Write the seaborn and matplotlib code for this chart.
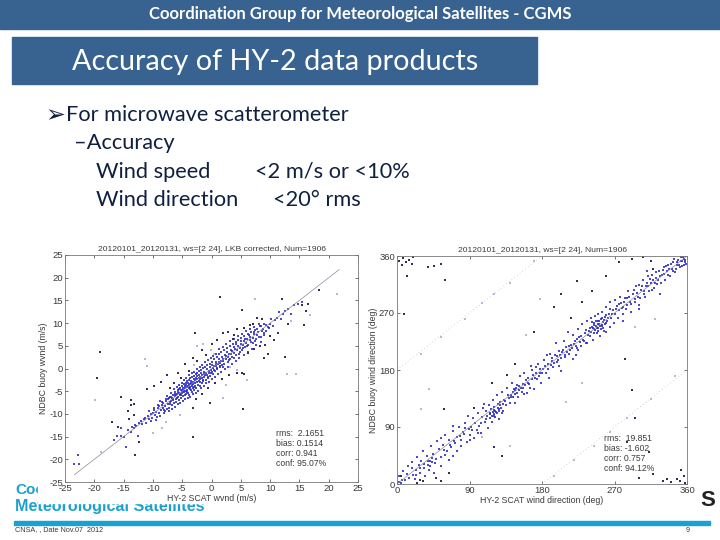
import numpy as np
import pandas as pd
import matplotlib
matplotlib.use("Agg")
import matplotlib.pyplot as plt
from matplotlib.patches import Rectangle
import seaborn as sns

sns.set_theme(style="white")
plt.rcParams["font.family"] = ["Liberation Sans", "DejaVu Sans"]
plt.rcParams["axes.unicode_minus"] = False

BAR = "#386290"
CYAN = "#1ba1d0"
NAVY = "#10203f"
GREY = "#3a3a3a"
BLUE = "#2a2ac8"

# wind speed panel (hy2, ndbc)
speed_band = [
    (-23.4,-21.1),(-22.6,-21.0),(-22.8,-19.0),(-16.6,-15.8),(-16.2,-14.9),(-15.5,-14.8),(-15.4,-13.2),(-15.0,-15.0),
    (-14.6,-17.2),(-14.2,-13.6),(-13.8,-13.9),(-13.5,-12.9),(-13.2,-13.2),(-13.0,-12.4),(-12.8,-12.6),(-12.5,-14.9),
    (-12.4,-12.0),(-12.1,-11.5),(-11.8,-12.2),(-11.6,-11.1),(-11.3,-10.8),(-11.1,-11.9),(-10.9,-10.4),(-10.6,-11.1),
    (-10.4,-10.0),(-10.2,-10.9),(-10.0,-9.7),(-9.8,-9.2),(-9.6,-10.3),(-9.4,-9.6),(-9.2,-8.8),(-9.0,-9.9),
    (-8.9,-8.3),(-8.7,-9.1),(-8.5,-8.0),(-8.3,-8.8),(-8.2,-7.6),(-8.0,-8.3),(-7.9,-9.4),(-7.7,-7.2),
    (-7.5,-7.9),(-7.4,-6.8),(-7.2,-8.6),(-7.1,-7.4),(-7.0,-6.2),(-6.9,-7.1),(-6.8,-8.1),(-6.7,-6.6),
    (-6.6,-5.8),(-6.5,-7.0),(-6.4,-7.7),(-6.3,-6.1),(-6.2,-5.2),(-6.1,-6.7),(-6.0,-7.3),(-5.9,-5.6),
    (-5.8,-6.2),(-5.7,-4.8),(-5.6,-6.9),(-5.5,-5.3),(-5.4,-5.9),(-5.3,-4.3),(-5.2,-6.5),(-5.1,-5.0),
    (-5.0,-5.5),(-5.0,-3.9),(-4.9,-6.1),(-4.8,-4.7),(-4.7,-5.2),(-4.7,-3.5),(-4.6,-5.9),(-4.5,-4.4),
    (-4.4,-5.0),(-4.4,-3.1),(-4.3,-5.6),(-4.2,-4.1),(-4.2,-4.7),(-4.1,-2.8),(-4.0,-5.3),(-4.0,-3.8),
    (-3.9,-4.4),(-3.9,-2.5),(-3.8,-5.8),(-3.7,-3.5),(-3.7,-4.1),(-3.6,-2.2),(-3.5,-4.8),(-3.5,-3.2),
    (-3.4,-3.8),(-3.4,-1.9),(-3.3,-5.2),(-3.2,-2.9),(-3.2,-4.4),(-3.1,-3.5),(-3.0,-1.6),(-3.0,-4.7),
    (-2.9,-2.6),(-2.8,-3.9),(-2.8,-3.2),(-2.7,-1.2),(-2.6,-4.2),(-2.5,-2.3),(-2.5,-3.0),(-2.4,-0.9),
    (-2.3,-3.6),(-2.2,-2.0),(-2.2,-2.7),(-2.1,-0.5),(-2.0,-3.9),(-2.0,-1.8),(-1.9,-2.4),(-1.8,-0.3),
    (-1.7,-3.2),(-1.6,-1.5),(-1.6,-2.1),(-1.5,0.2),(-1.4,-2.8),(-1.3,-1.2),(-1.2,-1.8),(-1.1,0.4),
    (-1.0,-2.5),(-0.9,-0.9),(-0.8,-1.5),(-0.7,0.8),(-0.6,-2.2),(-0.5,-0.6),(-0.4,-1.1),(-0.3,1.1),
    (-0.2,-1.7),(-0.1,-0.3),(0.0,-0.8),(0.1,1.4),(0.2,-1.3),(0.3,0.1),(0.4,0.6),(0.5,2.0),
    (0.6,-0.6),(0.7,0.5),(0.8,1.0),(0.9,2.5),(1.0,-0.2),(1.1,0.9),(1.2,1.4),(1.3,3.1),
    (1.4,0.3),(1.5,1.2),(1.6,1.6),(1.7,3.6),(1.8,0.8),(1.9,1.6),(2.0,2.2),(2.1,4.0),
    (2.2,1.1),(2.4,2.0),(2.5,2.7),(2.6,4.6),(2.8,1.4),(2.9,2.6),(3.0,3.2),(3.1,5.0),
    (3.2,2.0),(3.4,3.1),(3.5,3.8),(3.6,5.3),(3.8,2.4),(3.9,3.5),(4.0,4.4),(4.1,5.9),
    (4.2,3.0),(4.4,4.0),(4.5,5.0),(4.6,6.3),(4.8,3.6),(4.9,4.6),(5.0,5.4),(5.1,6.7),
    (5.2,4.1),(5.4,5.2),(5.5,6.0),(5.6,7.2),(5.8,4.7),(5.9,5.7),(6.0,6.4),(6.2,7.6),
    (6.3,5.2),(6.5,6.2),(6.6,6.9),(6.8,8.0),(7.0,5.7),(7.1,6.7),(7.3,7.5),(7.5,8.5),
    (7.6,6.5),(7.8,7.4),(8.0,8.1),(8.2,9.3),(8.4,6.9),(8.6,8.2),(8.8,8.7),(9.0,9.9),
    (9.3,8.2),(9.6,9.2),(9.9,9.8),(10.2,10.9),(10.5,9.4),(10.8,10.6),(11.1,11.2),(11.5,12.4),
    (11.9,11.0),(12.2,12.0),(12.6,12.6),(13.0,13.1),(13.5,12.1),(14.0,13.9),(14.8,14.3),(15.4,14.7),
]
# second pass over the dense part of the band, less regular
speed_dense = [
    (-9.37,-10.7),(-8.83,-7.2),(-8.11,-9.9),(-7.63,-6.1),(-7.29,-9.3),(-6.97,-5.3),(-6.72,-8.9),(-6.44,-4.6),
    (-6.18,-8.4),(-5.93,-4.1),(-5.76,-7.8),(-5.52,-3.6),(-5.33,-7.6),(-5.09,-3.2),(-4.87,-7.1),(-4.66,-2.6),
    (-4.48,-6.7),(-4.27,-2.2),(-4.06,-6.4),(-3.83,-1.5),(-3.64,-6.2),(-3.41,-1.1),(-3.19,-5.7),(-2.96,-0.7),
    (-2.73,-5.3),(-2.49,-0.2),(-2.27,-4.9),(-2.04,0.3),(-1.81,-4.4),(-1.57,0.7),(-1.36,-3.8),(-1.12,1.4),
    (-0.87,-3.3),(-0.63,1.9),(-0.41,-2.9),(-0.16,2.4),(0.07,-2.4),(0.33,2.8),(0.58,-1.9),(0.84,3.3),
    (1.09,-1.3),(1.36,4.2),(1.63,-0.7),(1.92,4.7),(2.24,-0.1),(2.53,5.4),(2.82,0.4),(3.13,6.1),
    (3.47,0.9),(3.78,6.6),(4.13,1.6),(4.47,7.1),(4.76,2.3),(5.12,7.7),(5.47,2.9),(5.83,8.3),
    (6.16,3.6),(6.53,8.6),(6.92,4.4),(7.28,9.1),(7.67,5.1),(8.07,9.7),(8.53,5.9),(8.96,7.3),
    (-5.61,-4.51),(-5.27,-4.83),(-4.93,-4.22),(-4.76,-4.94),(-4.58,-3.87),(-4.34,-3.64),(-4.17,-5.12),(-3.96,-3.18),
    (-3.79,-3.71),(-3.62,-4.53),(-3.44,-2.76),(-3.28,-3.32),(-3.07,-2.41),(-2.91,-4.02),(-2.68,-2.07),(-2.44,-1.72),
    (-6.83,-6.38),(-6.58,-6.74),(-6.27,-5.56),(-6.04,-5.92),(-5.87,-6.58),(-5.67,-5.14),(-5.44,-5.63),(-5.18,-5.84),
    (-2.16,-1.33),(-1.93,-3.06),(-1.74,-1.01),(-1.52,-2.47),(-1.27,-0.67),(-1.03,-1.36),(-0.78,-0.22),(-0.54,-1.83),
    (-0.32,0.36),(-0.07,-1.04),(0.16,0.72),(0.43,-0.44),(0.69,1.42),(0.96,0.17),(1.23,2.14),(1.47,0.62),
    (1.72,2.47),(2.03,0.41),(2.31,3.07),(2.67,3.62),(2.93,1.83),(3.27,4.17),(3.56,2.62),(3.84,4.83),
    (4.26,5.37),(4.63,3.27),(4.97,6.04),(5.33,4.61),(5.68,6.58),(6.07,5.03),(6.41,7.27),(6.74,5.87),
    (7.17,7.94),(7.43,6.14),(7.73,8.76),(8.13,7.03),(8.47,9.36),(8.92,7.72),(9.24,9.51),(9.74,8.93),
    (-10.74,-9.4),(-10.33,-11.6),(-9.87,-8.6),(-9.52,-11.3),(-9.13,-8.1),(-8.76,-10.4),(-8.41,-7.3),(-8.07,-9.1),
    (-7.84,-6.7),(-7.56,-8.9),(-7.33,-6.4),(-7.08,-7.9),
]
speed_scatter = [
    (-19.5,-2.0),(-19.0,3.6),(-15.5,-6.2),(-13.8,-8.0),(-13.3,-7.8),(-13.2,-10.2),(-13.7,-6.9),(-17.0,-11.8),
    (-15.9,-12.9),(-14.3,-9.3),(-14.1,-11.2),(-13.0,-19.0),(-12.4,-16.2),(-11.0,-4.5),(-9.8,-3.9),(-8.6,-2.9),
    (-7.6,-1.5),(-7.0,-4.4),(-6.4,-3.1),(-5.8,-1.0),(-5.2,-2.2),(-4.5,1.0),(-3.9,-0.6),(-3.2,2.4),
    (-2.9,7.8),(-2.4,1.6),(-1.6,4.0),(-0.9,2.9),(-3.1,-8.7),(-3.1,-15.1),(-0.3,-7.7),(-2.6,-6.8),
    (-1.6,-5.6),(-0.6,-4.4),(0.6,-3.2),(1.8,-2.4),(3.0,-1.5),(4.4,-0.9),(5.6,-1.2),(5.2,-1.0),
    (0.0,5.4),(0.9,6.2),(1.5,15.8),(1.9,7.9),(2.9,8.1),(3.9,7.4),(5.2,12.8),(5.5,8.9),
    (5.3,-9.0),(7.8,11.1),(9.0,2.3),(9.6,3.3),(9.2,5.2),(10.7,6.2),(11.4,7.8),(12.6,2.5),
    (13.0,9.9),(12.0,15.2),(15.5,14.0),(15.7,9.6),(16.1,12.7),(16.5,14.3),(18.3,17.2),(7.3,4.2),
    (8.2,5.0),(8.7,10.8),(7.0,9.9),(6.5,9.6),(4.4,8.8),(3.6,6.5),(6.2,3.4),(10.0,7.1),
]
speed_pale = [
    (-19.8,-7.0),(-18.8,-18.3),(-11.3,2.2),(-11.0,0.5),(-9.9,-14.3),(-8.4,-13.0),(-7.8,-11.7),(-5.4,-10.2),
    (-3.0,0.8),(-1.4,5.3),(-0.1,4.0),(1.9,-6.5),(2.4,-3.6),(4.4,-0.4),(6.1,-2.6),(7.5,15.4),
    (12.8,-1.2),(14.4,-1.2),(21.5,16.5),(13.5,10.4),(16.8,11.7),(-2.5,5.0),(0.5,3.2),(3.2,0.4),
]
speed_fit = [-23.4, 21.8]
speed_stats = ["rms:  2.1651", "bias: 0.1514", "corr: 0.941", "conf: 95.07%"]

# wind direction panel (hy2, ndbc)
dir_band = [
    (2,3),(3,12),(5,1),(6,7),(8,20),(10,6),(12,16),(14,28),(15,10),(18,26),(19,34),(20,14),(22,8),(24,22),(25,42),
    (27,30),(29,18),(30,36),(32,52),(34,26),(35,12),(37,44),(39,30),(40,22),(41,36),(42,60),(44,34),(45,48),(46,17),(48,40),
    (50,68),(52,56),(54,42),(55,28),(57,62),(59,46),(60,78),(62,52),(64,38),(65,70),(67,58),(69,84),(70,44),(72,64),(74,74),
    (75,52),(77,90),(79,70),(80,60),(82,82),(84,96),(85,88),(87,66),(88,108),(90,78),(92,90),(94,104),(95,72),(97,96),(99,86),
    (100,112),(102,92),(104,80),(105,106),(107,120),(109,98),(110,116),(112,108),(113,88),(114,124),(115,112),(116,104),(117,118),(118,98),(119,132),
    (120,110),(121,122),(122,106),(123,114),(124,140),(125,126),(126,118),(127,102),(128,130),(129,120),(130,146),(132,116),(133,132),(135,124),(136,152),
    (138,140),(140,128),(141,138),(143,160),(144,146),(145,150),(146,128),(148,152),(149,156),(150,138),(152,154),(153,170),(155,146),(156,158),(158,176),
    (160,164),(161,144),(163,168),(165,152),(167,180),(169,172),(170,150),(172,184),(174,166),(175,190),(177,176),(179,160),(181,182),(183,196),(185,176),
    (187,190),(189,168),(190,206),(192,194),(194,184),(196,204),(197,222),(199,192),(201,210),(203,178),(205,208),(207,226),(209,200),(210,216),(212,240),
    (214,206),(216,220),(218,236),(219,198),(221,226),(223,214),(225,244),(226,232),(228,218),(230,252),(231,228),(233,238),(235,222),(236,258),(238,242),
    (240,234),(241,262),(242,248),(243,228),(244,254),(245,244),(246,266),(247,250),(248,238),(249,258),(250,246),(250,268),(251,252),(252,234),(253,260),
    (254,250),(255,272),(256,256),(257,242),(258,264),(259,254),(260,280),(262,262),(264,248),(265,276),(267,268),(269,254),(270,290),(272,276),(274,262),
    (275,284),(277,296),(279,278),(281,268),(283,294),(285,282),(287,304),(289,288),(291,272),(293,300),(295,292),(297,312),(299,296),(301,282),(303,306),
    (305,322),(307,300),(309,312),(311,328),(313,304),(315,318),(317,330),(319,310),(321,326),(323,316),(325,336),(327,300),(329,330),(331,342),(333,322),
    (335,336),(337,346),(339,328),(341,340),(343,350),(345,334),(347,346),(349,354),(351,342),(353,352),(355,358),(356,346),(358,354),(359,348),(354,345),
]
# tighter clumps on the band
dir_dense = [
    (23,14),(28,25),(33,31),(38,36),(41,29),(43,41),(47,33),(58,53),(66,61),(71,68),(78,76),(83,79),(89,87),(93,85),
    (104,97),(111,103),(116,111),(118,107),(119,114),(120,117),(121,108),(122,116),(124,112),(125,120),(127,116),(128,124),(131,126),(134,131),
    (139,136),(142,141),(144,138),(146,142),(147,148),(149,144),(151,149),(154,151),(157,152),(159,156),(162,160),(164,158),(168,166),(171,168),
    (173,176),(176,171),(178,182),(180,175),(184,186),(188,182),(191,188),(193,199),(195,191),(198,202),(200,196),(202,204),(204,199),(206,212),
    (208,204),(211,209),(213,218),(215,211),(217,214),(220,221),(222,218),(224,229),(227,224),(229,233),(232,226),(234,243),(237,235),(239,247),
    (241,240),(242,256),(243,246),(244,239),(245,251),(246,243),(247,257),(248,247),(249,252),(250,241),(251,258),(252,249),(253,244),(254,262),
    (255,251),(256,247),(257,259),(258,253),(259,267),(261,257),(263,269),(266,262),(268,275),(271,268),(273,281),(276,274),(278,286),(280,279),
    (282,288),(284,276),(286,294),(288,296),(290,284),(294,306),(296,288),(298,302),(300,314),(302,294),(304,312),(306,304),(308,296),(310,318),
    (312,312),(314,324),(316,306),(318,322),(320,318),(322,334),(324,322),(326,328),(328,318),(330,338),(332,332),(334,344),(336,330),(338,340),
    (340,348),(342,336),(344,356),(346,340),(348,350),(350,346),(352,358),(354,352),(356,355),(357,350),(90,70),(100,80),(108,126),(130,112),
    (158,142),(166,186),(186,204),(201,186),(222,204),(225,212),(236,222),(260,240),(265,288),(280,258),(300,276),(310,336),(70,92),(55,72),
]
dir_scatter = [
    (3,352),(6,346),(8,357),(11,350),(15,354),(19,348),(20,358),(38,342),(46,344),(55,348),(12,328),(60,322),(9,268),
    (5,12),(28,6),(25,2),(32,5),(48,9),(55,4),(65,18),(120,58),(130,44),(58,118),(95,120),(118,160),(137,172),(146,190),
    (170,240),(195,280),(216,262),(230,288),(283,198),(292,148),(296,104),(285,66),(313,50),(300,10),(330,5),(340,3),(347,8),(351,4),
    (356,12),(358,2),(352,22),(335,8),(318,16),(204,300),(242,305),(223,320),(260,328),(275,350),(292,355),(305,358),(318,340),(315,352),
]
dir_pale = [
    (30,205),(55,232),(85,260),(105,286),(120,300),(140,318),(170,352),(195,12),(220,38),(245,60),(265,82),(285,104),(315,135),(345,170),
    (178,292),(140,60),(105,75),(160,235),(210,130),(230,160),(320,260),(296,248),(40,150),(30,118),
]
dir_line = [0, 360]
dir_wrap_upper = [0, 180]
dir_wrap_lower = [180, 360]
dir_stats = ["rms:  19.851", "bias: -1.602", "corr: 0.757", "conf: 94.12%"]

speed_ticks = [-25, -20, -15, -10, -5, 0, 5, 10, 15, 20, 25]
dir_ticks = [0, 90, 180, 270, 360]

W, H = 720, 540
fig = plt.figure(figsize=(W / 100, H / 100), dpi=100, facecolor="white")

# slide background, in pixel coordinates
bg = fig.add_axes([0, 0, 1, 1], zorder=0)
bg.set_xlim(0, W)
bg.set_ylim(H, 0)
bg.axis("off")
bg.add_patch(Rectangle((0, 0), W, 28.5, color=BAR))
bg.add_patch(Rectangle((12, 37), 525, 47, color=BAR))
bg.add_patch(Rectangle((14, 521), 696, 4, color=CYAN))

bg.text(360, 14, "Coordination Group for Meteorological Satellites - CGMS", color="white", ha="center",
        va="center", fontsize=12, fontweight="bold", family="Lato")
bg.text(72, 62, "Accuracy of HY-2 data products", color="white", va="center", fontsize=20.7, family="Lato")

bg.text(45, 115, "➢", color=NAVY, va="center", fontsize=17, family="DejaVu Sans")
body = [(66, 115, "For microwave scatterometer"), (74, 143, "–Accuracy"), (96, 172, "Wind speed"),
        (255, 172, "<2 m/s or <10%"), (96, 200, "Wind direction"), (273, 200, "<20° rms")]
for x, y, s in body:
    bg.text(x, y, s, color=NAVY, va="center", fontsize=15.7, family="Lato")

# logo text sits under the pasted plot image, only its left end and lower edge show
bg.text(15, 490, "Coo", color=CYAN, va="center", fontsize=11, fontweight="bold", zorder=2)
bg.text(15, 506, "Meteorological Satellites", color=CYAN, va="center", fontsize=11.6, fontweight="bold", zorder=2)
bg.add_patch(Rectangle((38, 235), 332, 268, color="white", zorder=3))
bg.add_patch(Rectangle((370, 235), 328, 272, color="white", zorder=3))
bg.text(700, 501, "S", color="#222222", va="center", fontsize=16, fontweight="bold", zorder=4)

bg.text(15, 530, "CNSA, , Date Nov.07  2012", color=GREY, va="center", fontsize=5.2)
bg.text(688, 530, "9", color=GREY, va="center", ha="center", fontsize=5)


def panel(rect, band, scat, pale, ticks, xlabel, ylabel, title):
    x0, y0, x1, y1 = rect
    ax = fig.add_axes([x0 / W, 1 - y1 / H, (x1 - x0) / W, (y1 - y0) / H], zorder=5)
    ax.patch.set_alpha(0)
    df = pd.DataFrame(band, columns=["x", "y"])
    sc = pd.DataFrame(scat, columns=["x", "y"])
    pl = pd.DataFrame(pale, columns=["x", "y"])
    sns.scatterplot(data=pl, x="x", y="y", ax=ax, s=2, color="#b8b8dc", linewidth=0, marker="s")
    sns.scatterplot(data=df, x="x", y="y", ax=ax, s=3, color=BLUE, linewidth=0, marker="s", alpha=0.85)
    sns.scatterplot(data=sc, x="x", y="y", ax=ax, s=1.6, color="#30305a", linewidth=0, marker="s")
    ax.set_xlim(ticks[0], ticks[-1])
    ax.set_ylim(ticks[0], ticks[-1])
    ax.set_xticks(ticks)
    ax.set_yticks(ticks)
    ax.tick_params(direction="in", length=2.5, width=0.5, labelsize=6.8, colors=GREY, pad=1.5, top=True, right=True,
                   left=True, bottom=True)
    for sp in ax.spines.values():
        sp.set_linewidth(0.6)
        sp.set_color("#777777")
    ax.set_xlabel(xlabel, fontsize=6.3, color=GREY, labelpad=1)
    ax.set_ylabel(ylabel, fontsize=6.3, color=GREY, labelpad=1)
    ax.set_title(title, fontsize=6.1, color=GREY, pad=3)
    return ax


ax1 = panel((65, 255, 358, 482), speed_band + speed_dense, speed_scatter, speed_pale, speed_ticks,
            "HY-2 SCAT wvnd (m/s)", "NDBC buoy wvnd (m/s)",
            "20120101_20120131, ws=[2 24], LKB corrected, Num=1906")
sns.lineplot(x=speed_fit, y=speed_fit, ax=ax1, color="#8a8a9a", linewidth=0.5)
for i, s in enumerate(speed_stats):
    ax1.text(11, -14.4 - i * 2.2, s, fontsize=6.2, color=GREY, va="center")

ax2 = panel((397, 256, 687, 484), dir_band + dir_dense, dir_scatter, dir_pale, dir_ticks,
            "HY-2 SCAT wind direction (deg)", "NDBC buoy wind direction (deg)",
            "20120101_20120131, ws=[2 24], Num=1906")
sns.lineplot(x=dir_line, y=dir_line, ax=ax2, color="#8a8a9a", linewidth=0.5)
ax2.plot(dir_wrap_upper, dir_wrap_lower, color="#b0b0b0", linewidth=0.5, linestyle=(0, (1, 4)))
ax2.plot(dir_wrap_lower, dir_wrap_upper, color="#b0b0b0", linewidth=0.5, linestyle=(0, (1, 4)))
for i, s in enumerate(dir_stats):
    ax2.text(257, 72 - i * 15.8, s, fontsize=6.2, color=GREY, va="center")

fig.savefig("out.png", dpi=100)
